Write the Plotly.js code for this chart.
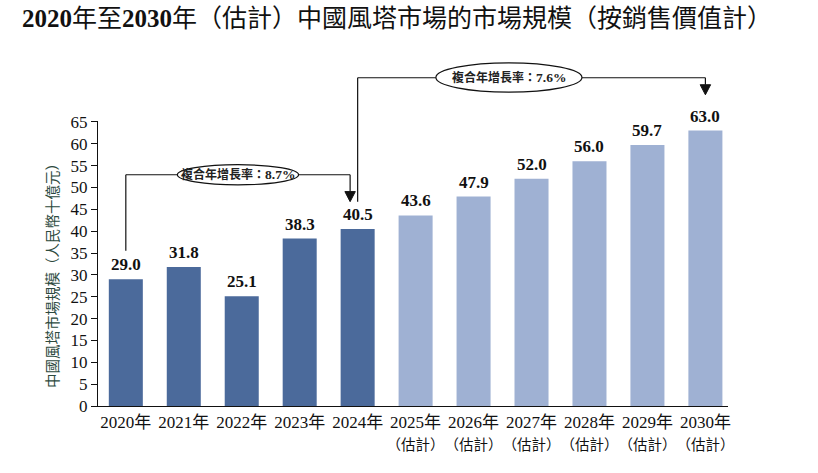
<!DOCTYPE html>
<html>
<head>
<meta charset="utf-8">
<script src="https://cdn.plot.ly/plotly-3.0.1.min.js"></script>
<style>
html,body{margin:0;padding:0;background:#fff;}
#chart{width:818px;height:473px;}
</style>
</head>
<body>
<div id="chart"></div>
<script>
// ---- data ----
const years = ["2020年","2021年","2022年","2023年","2024年","2025年","2026年","2027年","2028年","2029年","2030年"];
const estimateNote = "（估計）";
const actualValues = [29.0, 31.8, 25.1, 38.3, 40.5];
const forecastValues = [43.6, 47.9, 52.0, 56.0, 59.7, 63.0];
const cagrPrefix = "複合年增長率：";
const cagrRates = ["8.7%", "7.6%"];
const yTickVals = [0,5,10,15,20,25,30,35,40,45,50,55,60,65];

const actualCats = years.slice(0, actualValues.length);
const forecastCats = years.slice(actualValues.length);
const allValues = actualValues.concat(forecastValues);
const tickTexts = years.map((y, i) => i < actualValues.length ? y :
  y + '<br><span style="font-size:14.5px">' + estimateNote + '</span>');

const yMax = 65.2;
const yp = v => v / yMax;   // value -> paper fraction (same scale as y axis)

const serif = "'Liberation Serif', 'Times New Roman', 'Noto Sans CJK TC', serif";
const cjk = "'Noto Sans CJK TC', 'Liberation Serif', sans-serif";

const traces = [
  {type:'bar', x: actualCats, y: actualValues, marker:{color:'#4b6a9b'}, hoverinfo:'none', showlegend:false},
  {type:'bar', x: forecastCats, y: forecastValues, marker:{color:'#9fb1d3'}, hoverinfo:'none', showlegend:false}
];

// value labels
const annotations = years.map((c, i) => ({
  x: c, y: allValues[i], xref:'x', yref:'y', text: '<b>' + allValues[i].toFixed(1) + '</b>',
  showarrow:false, yanchor:'bottom', yshift: 3,
  font:{family: serif, size:17, color:'#111'}
}));

// bracket geometry (in category index / value units)
const b1 = {x0: 0, x1: 3.87, y: 52.9, yStart: actualValues[0] + 6.5, yTip: actualValues[4] + 6.25};
const b2 = {x0: 4, x1: 10, y: 75.1, yStart: actualValues[4] + 6.25, yTip: 71.2};
const headH = 2.3, headW = 0.09;

const lineStyle = {color:'#111', width:1.2};
function bracket(b) {
  return [
    {type:'line', xref:'x', yref:'paper', x0:b.x0, x1:b.x0, y0:yp(b.yStart), y1:yp(b.y), line:lineStyle},
    {type:'line', xref:'x', yref:'paper', x0:b.x0, x1:b.x1, y0:yp(b.y), y1:yp(b.y), line:lineStyle},
    {type:'line', xref:'x', yref:'paper', x0:b.x1, x1:b.x1, y0:yp(b.y), y1:yp(b.yTip + headH), line:lineStyle},
    {type:'path', xref:'x', yref:'paper',
     path: 'M' + (b.x1 - headW) + ',' + yp(b.yTip + headH) + ' L' + (b.x1 + headW) + ',' + yp(b.yTip + headH) + ' L' + b.x1 + ',' + yp(b.yTip) + ' Z',
     fillcolor:'#111', line:{color:'#111', width:1}}
  ];
}
const e1 = {x0: 0.89, x1: 2.98, y0: 50.6, y1: 55.2};
const e2 = {x0: 5.35, x1: 7.87, y0: 71.8, y1: 78.5};
const shapes = bracket(b1).concat(bracket(b2)).concat([
  {type:'circle', xref:'x', yref:'paper', x0:e1.x0, x1:e1.x1, y0:yp(e1.y0), y1:yp(e1.y1), fillcolor:'#fff', line:{color:'#111', width:1.2}},
  {type:'circle', xref:'x', yref:'paper', x0:e2.x0, x1:e2.x1, y0:yp(e2.y0), y1:yp(e2.y1), fillcolor:'#fff', line:{color:'#111', width:1.2}}
]);

const cagrText = r => '<b>' + cagrPrefix + '<span style="font-size:13.5px">' + r + '</span></b>';
annotations.push(
  {x:(e1.x0+e1.x1)/2, y:yp((e1.y0+e1.y1)/2), xref:'x', yref:'paper', xanchor:'center', yanchor:'middle',
   text:cagrText(cagrRates[0]), showarrow:false, font:{family:serif, size:12, color:'#222'}},
  {x:(e2.x0+e2.x1)/2, y:yp((e2.y0+e2.y1)/2), xref:'x', yref:'paper', xanchor:'center', yanchor:'middle',
   text:cagrText(cagrRates[1]), showarrow:false, font:{family:serif, size:12, color:'#222'}},
  {x:-0.0746, y:0.47, xref:'paper', yref:'paper', xanchor:'center', yanchor:'middle',
   text:'中國風塔市場規模（人民幣十億元）', textangle:-90, showarrow:false,
   font:{family:cjk, size:14.5, color:'#2d4a3e'}}
);

const layout = {
  width:818, height:473,
  margin:{l:98, r:90, t:121, b:67},
  paper_bgcolor:'#fff', plot_bgcolor:'#fff',
  title:{text:'<b>2020</b>年至<b>2030</b>年（估計）中國風塔市場的市場規模（按銷售價值計）',
         x:22/818, xref:'container', xanchor:'left', y:1-18/473, yref:'container', yanchor:'middle',
         font:{family:serif, size:25, color:'#111'}},
  bargap:0.413,
  barmode:'group',
  xaxis:{type:'category', categoryorder:'array', categoryarray:years, range:[-0.48, 10.39],
         tickvals:years, ticktext:tickTexts, tickangle:0,
         showline:true, linecolor:'#111', linewidth:1.2, ticks:'', showgrid:false, zeroline:false,
         tickfont:{family:serif, size:17, color:'#111'}, fixedrange:true},
  yaxis:{range:[0, yMax], tickvals:yTickVals, showline:true, linecolor:'#111', linewidth:1.2,
         ticks:'outside', ticklen:6, tickcolor:'#111', tickwidth:1, showgrid:false, zeroline:false,
         tickfont:{family:serif, size:17, color:'#111'}, ticklabelstandoff:0, fixedrange:true},
  shapes: shapes,
  annotations: annotations,
  showlegend:false
};

Plotly.newPlot('chart', traces, layout, {staticPlot:true, displayModeBar:false});
</script>
</body>
</html>
